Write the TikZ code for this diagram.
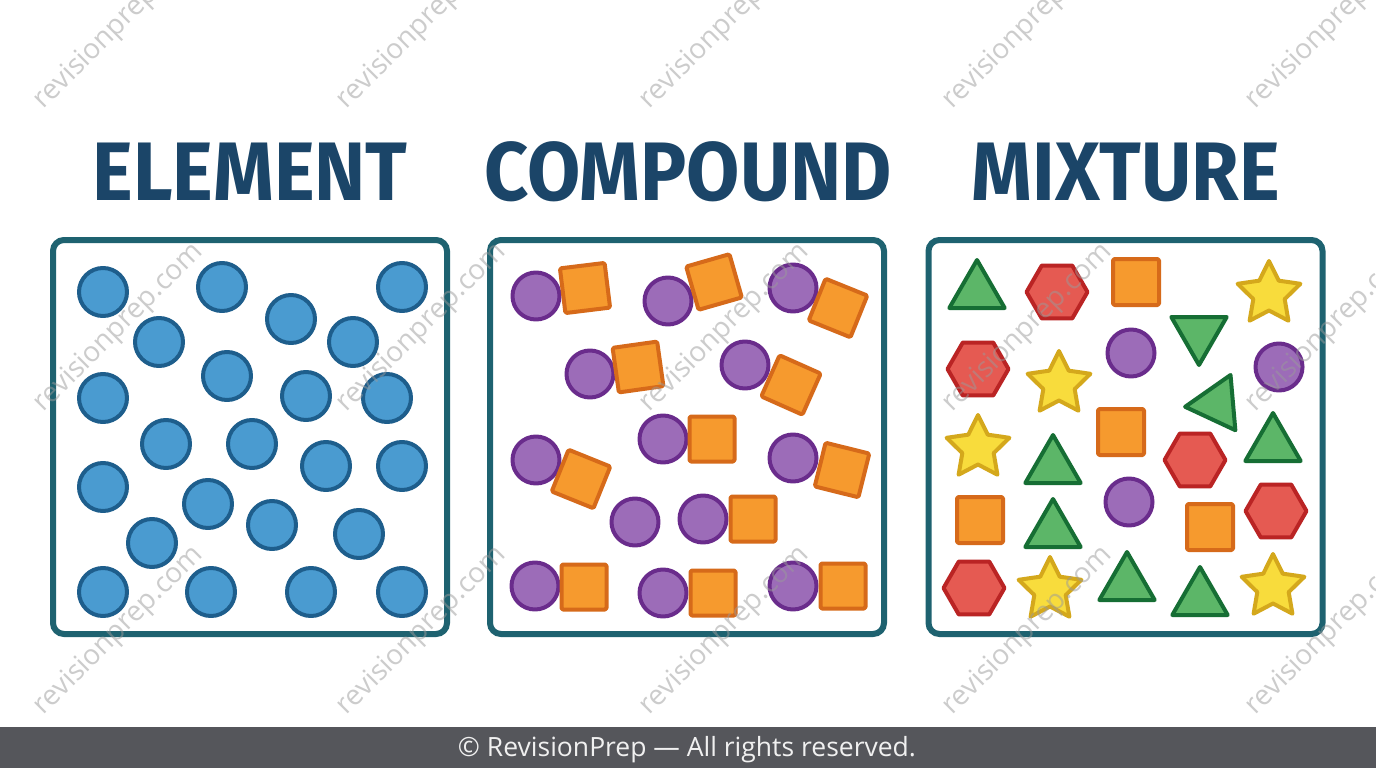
\documentclass[tikz,border=0pt]{standalone}
\usepackage{fontspec}
\setmainfont{Open Sans}
\newfontfamily\headfont{Fira Sans}
\usetikzlibrary{shapes.geometric}

\definecolor{frameteal}{HTML}{1E6270}
\definecolor{headblue}{HTML}{1B4568}
\definecolor{atomfill}{HTML}{4A9BD0}
\definecolor{atomedge}{HTML}{1E5E8C}
\definecolor{purpfill}{HTML}{9C6CB8}
\definecolor{purpedge}{HTML}{6A2C8C}
\definecolor{orngfill}{HTML}{F69A2E}
\definecolor{orngedge}{HTML}{D66A1A}
\definecolor{grnfill}{HTML}{5CB668}
\definecolor{grnedge}{HTML}{166E34}
\definecolor{redfill}{HTML}{E55A52}
\definecolor{rededge}{HTML}{BA2424}
\definecolor{ylwfill}{HTML}{F8DC3C}
\definecolor{ylwedge}{HTML}{D4A81C}
\definecolor{footbar}{HTML}{55565B}
\definecolor{wmgray}{HTML}{9A9A9A}

\begin{document}
\begin{tikzpicture}[
  x=1pt, y=-1pt,
  frame/.style={draw=frameteal, line width=6pt, rounded corners=11pt, minimum size=394pt, inner sep=0pt},
  heading/.style={font=\headfont\bfseries\fontsize{83}{90}\selectfont, text=headblue, anchor=base, inner sep=0pt},
  shp/.style={line width=4pt, inner sep=0pt, line join=round},
  atom/.style={shp, circle, minimum size=48pt, draw=atomedge, fill=atomfill},
  patom/.style={shp, circle, minimum size=47pt, draw=purpedge, fill=purpfill},
  cube/.style={shp, rectangle, rounded corners=1.5pt, minimum size=45pt, draw=orngedge, fill=orngfill},
  tri/.style={shp, regular polygon, regular polygon sides=3, minimum size=64pt, draw=grnedge, fill=grnfill},
  hexa/.style={shp, regular polygon, regular polygon sides=6, minimum size=61pt, draw=rededge, fill=redfill},
  starry/.style={shp, star, star points=5, star point ratio=2, minimum size=66pt, draw=ylwedge, fill=ylwfill},
  wmark/.style={font=\fontsize{28}{30}\selectfont, text=wmgray, text opacity=0.5, rotate=45}
]
  \useasboundingbox (0,0) rectangle (1376,768);
  \fill[white] (0,0) rectangle (1376,768);

  % the three boxes
  \node[frame] (elbox) at (250,437) {};
  \node[frame] (cpbox) at (687,437) {};
  \node[frame] (mxbox) at (1125.5,437) {};

  \node[heading] (eltitle) at (250,200) {\scalebox{0.93}[1]{ELEMENT}};
  \node[heading] (cptitle) at (688,200) {\scalebox{0.93}[1]{COMPOUND}};
  \node[heading] (mxtitle) at (1126,200) {\scalebox{0.93}[1]{MIXTURE}};

  % element: one kind of atom
  \foreach \x/\y [count=\i] in {103/292, 222/287, 402/287, 291/319, 159/342, 353/342,
      227/376, 103/398, 306/396, 387/398, 166/444, 252/444, 326/466, 402/466,
      103/487, 208/504, 272/525, 359/534, 152/543, 103/592, 211/592, 311/592, 402/592}
    \node[atom] (el\i) at (\x,\y) {};

  % compound: bonded pairs
  \foreach \ax/\ay/\bx/\by/\r [count=\i] in {536/296/585/288/7, 668/301/714/282/16,
      793/288/838/308/-22, 590/374/638/367/8, 745/365/791/385/-24, 663/439/712/439/0,
      536/460/581/479/-22, 793/458/842/470/-14, 703/519/753/519/0, 535/586/584/587/0,
      663/593/713/593/0, 793/586/843/586/0}
  {
    \node[patom] (ca\i) at (\ax,\ay) {};
    \node[cube, rotate=\r] (cb\i) at (\bx,\by) {};
  }
  \node[patom] (ca13) at (635,522) {};

  % mixture: everything mixed up
  \foreach \x/\y [count=\i] in {977/292, 1053/467, 1273/445, 1053/531, 1127/584, 1200/599}
    \node[tri] (mt\i) at (\x,\y) {};
  \node[tri, rotate=180] (mt7) at (1199,333) {};
  \node[tri, rotate=-25] (mt8) at (1217,404) {};
  \foreach \x/\y [count=\i] in {1057/292, 978/369, 1195/460, 1276/511, 974/588}
    \node[hexa] (mh\i) at (\x,\y) {};
  \foreach \x/\y [count=\i] in {1269/294, 1059/384, 978/448, 1050/590, 1273/587}
    \node[starry] (ms\i) at (\x,\y) {};
  \foreach \x/\y [count=\i] in {1136/282, 1121/432, 980/520, 1210/527}
    \node[cube, minimum size=46pt] (mq\i) at (\x,\y) {};
  \foreach \x/\y [count=\i] in {1131/353, 1279/367, 1129/502}
    \node[patom] (mc\i) at (\x,\y) {};

  % watermark
  \begin{scope}
    \clip (0,0) rectangle (1376,727);
    \foreach \x in {119,422,725,1028,1331}
      \foreach \y in {25,328,631}
        \node[wmark] (wm-\x-\y) at (\x,\y) {revisionprep.com};
  \end{scope}

  \fill[footbar] (0,727) rectangle (1376,768);
  \node[font=\fontsize{26.5}{28}\selectfont, text=white!94!black, anchor=base] (foot) at (687,756.5) {© RevisionPrep — All rights reserved.};
\end{tikzpicture}
\end{document}
